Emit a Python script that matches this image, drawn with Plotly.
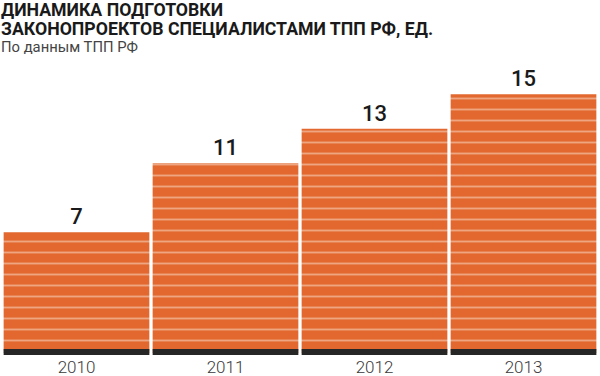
import plotly.graph_objects as go

years = ["2010", "2011", "2012", "2013"]
values = [7, 11, 13, 15]

title_line1 = "ДИНАМИКА ПОДГОТОВКИ"
title_line2 = "ЗАКОНОПРОЕКТОВ СПЕЦИАЛИСТАМИ ТПП РФ, ЕД."
subtitle = "По данным ТПП РФ"

ORANGE = "#E2682F"
BAND_LO, BAND_HI = -0.116, 0.232  # dark foot band extent (style)

W, H = 600, 376
ML, MR, MT, MB = 2, 2, 60, 21
PH = H - MT - MB

fig = go.Figure()
fig.add_trace(go.Bar(
    x=years, y=values,
    marker=dict(color=ORANGE,
                pattern=dict(shape="-", fgcolor="#FBE2D2", bgcolor=ORANGE,
                             size=11, solidity=0.17, fillmode="overlay"),
                line=dict(width=0)),
    text=[str(v) for v in values], textposition="outside",
    textfont=dict(family="Roboto", size=22, color="#1a1a1a", weight=500),
    cliponaxis=False, hoverinfo="skip",
))
fig.add_trace(go.Bar(
    x=years, y=[BAND_HI - BAND_LO] * len(years), base=BAND_LO,
    marker=dict(color="#262626", line=dict(width=0)),
    hoverinfo="skip",
))

def ypx(px):
    return (H - MB - px) / PH

annos = [
    (title_line1, 9.8, 17.7, "#1a1a1a", 700, 18),
    (title_line2, 29.0, 17.7, "#1a1a1a", 700, 18),
    (subtitle, 46.5, 14.8, "#444444", 400, 15),
]
for txt, y, sz, col, wt, hgt in annos:
    fig.add_annotation(text=txt, xref="paper", yref="paper",
                       x=(0 - ML) / (W - ML - MR), y=ypx(y),
                       xanchor="left", yanchor="middle", showarrow=False,
                       height=hgt, valign="middle", borderpad=0,
                       font=dict(family="Roboto", size=sz, color=col, weight=wt))

fig.update_layout(
    width=W, height=H,
    margin=dict(l=ML, r=MR, t=MT, b=MB, autoexpand=False),
    barmode="overlay", bargap=0.022,
    plot_bgcolor="white", paper_bgcolor="white",
    showlegend=False,
    xaxis=dict(showgrid=False, zeroline=False, showline=False, ticks="",
               automargin=False,
               tickfont=dict(family="Roboto", size=17, color="#3a3a3a", weight=300),
               ticklabelstandoff=0),
    yaxis=dict(range=[-0.116, 16.985], visible=False, showgrid=False,
               zeroline=False, automargin=False),
)

fig.write_html("out.html", config={"displayModeBar": False},
               post_script="document.body.style.margin='0';document.body.style.overflow='hidden';")
